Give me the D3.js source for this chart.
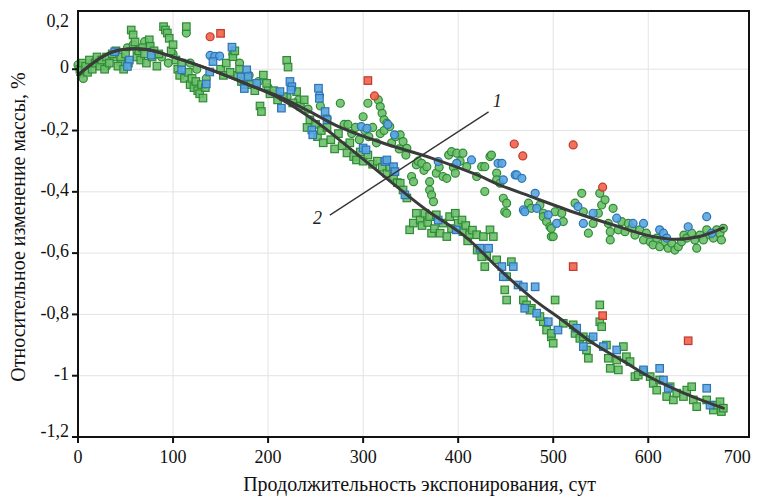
<!DOCTYPE html>
<html>
<head>
<meta charset="utf-8">
<script src="https://cdn.jsdelivr.net/npm/d3@7"></script>
<style>
  body { margin: 0; background: #fff; }
  svg { display: block; font-family: "Liberation Serif", "DejaVu Serif", serif; }
</style>
</head>
<body>
<svg id="chart" width="760" height="497"></svg>
<script>
// tick values
const xTicks = [0, 100, 200, 300, 400, 500, 600, 700];
const yTicks = [0.2, 0, -0.2, -0.4, -0.6, -0.8, -1, -1.2];

// fitted curves (day, % change)
const curve1 = [[0,-0.019],[35,0.055],[70,0.065],[102,0.038],[140,-0.002],[179,-0.05],[212,-0.089],[245,-0.14],[276,-0.19],[320,-0.24],[372,-0.29],[420,-0.345],[444,-0.378],[476,-0.415],[525,-0.47],[565,-0.51],[602,-0.544],[630,-0.555],[655,-0.545],[679,-0.518]];
const curve2 = [[0,-0.019],[35,0.055],[70,0.065],[102,0.038],[140,-0.002],[179,-0.05],[212,-0.095],[250,-0.17],[286,-0.258],[339,-0.392],[367,-0.46],[409,-0.55],[444,-0.655],[479,-0.75],[510,-0.82],[540,-0.89],[575,-0.955],[605,-1.01],[640,-1.06],[679,-1.106]];

// sample 2 (squares)
const greenSquares = [[2,0.0],[5,0.02],[8,0.01],[10,-0.01],[12,0.03],[15,0.0],[18,0.02],[20,0.04],[23,0.01],[25,0.03],[28,0.0],[30,0.04],[33,0.02],[36,0.05],[40,0.06],[42,0.01],[45,0.04],[48,0.0],[50,0.05],[53,0.02],[56,0.128],[58,0.112],[60,0.089],[62,0.04],[64,0.06],[66,0.03],[68,0.07],[70,0.05],[72,0.02],[75,0.096],[76,0.075],[78,0.04],[80,0.06],[83,0.01],[85,0.05],[90,0.139],[92,0.128],[94,0.118],[96,0.101],[98,0.06],[100,0.08],[103,0.03],[105,0.0],[107,-0.02],[109,0.02],[112,-0.03],[114,0.139],[116,-0.01],[118,-0.05],[120,-0.03],[122,-0.06],[124,-0.04],[126,-0.07],[128,-0.08],[130,-0.05],[131.5,-0.094],[134,-0.06],[150,0.0],[153,-0.02],[156,0.02],[160,-0.01],[163,0.041],[165,0.06],[168,-0.02],[170,0.0],[172,-0.04],[175,-0.05],[178,-0.03],[182,-0.05],[186,-0.07],[191.5,-0.12],[193,-0.138],[195,-0.019],[198.5,-0.046],[202,-0.08],[206,-0.07],[210,-0.1],[216,-0.09],[219.6,0.029],[221,0.007],[226,-0.11],[230,-0.073],[234,-0.12],[238,-0.1],[241,-0.19],[244,-0.165],[250,-0.18],[252,-0.22],[256,-0.2],[258,-0.24],[262,-0.19],[266,-0.23],[270,-0.26],[274,-0.21],[278,-0.25],[283,-0.273],[286,-0.24],[290,-0.285],[293,-0.296],[297,-0.27],[300,-0.3],[305,-0.28],[310,-0.31],[315,-0.3],[320,-0.32],[325,-0.34],[328,-0.32],[332,-0.35],[336,-0.37],[339,-0.372],[342,-0.394],[346,-0.42],[349,-0.524],[352.8,-0.502],[356,-0.47],[360,-0.492],[362,-0.51],[365,-0.47],[368,-0.5],[370,-0.481],[372,-0.535],[375,-0.52],[377,-0.475],[381,-0.535],[384,-0.502],[388,-0.546],[391,-0.481],[393,-0.52],[397,-0.47],[400,-0.502],[404,-0.492],[405,-0.53],[408,-0.51],[410,-0.56],[412,-0.54],[415,-0.525],[419.5,-0.54],[420,-0.59],[426.5,-0.546],[430,-0.61],[433.5,-0.524],[437,-0.546],[428,-0.644],[424.7,-0.612],[440.5,-0.622],[451,-0.677],[449,-0.72],[451,-0.753],[456,-0.628],[468.6,-0.753],[472,-0.769],[477,-0.78],[502,-0.753],[489.6,-0.824],[493,-0.851],[498,-0.873],[500,-0.894],[521,-0.834],[523,-0.862],[528,-0.878],[535,-0.916],[475.6,-0.786],[486,-0.807],[498,-0.862],[510.6,-0.829],[531.7,-0.873],[537,-0.943],[538.7,-0.883],[549,-0.769],[549,-0.824],[551,-0.84],[556,-0.9],[558,-0.943],[560,-0.976],[566.8,-0.949],[568.5,-0.981],[573.8,-0.905],[577,-0.938],[580.8,-0.954],[586,-1.003],[589.5,-0.998],[595,-0.987],[602,-1.003],[605.3,-1.025],[608.9,-1.047],[612,-1.014],[619.4,-1.068],[623,-1.036],[626.4,-1.079],[630,-1.057],[637,-1.068],[640.5,-1.047],[645.7,-1.036],[647.4,-1.079],[651,-1.101],[661.5,-1.079],[668.5,-1.112],[672,-1.096],[675.5,-1.085],[677,-1.117],[679,-1.106]];
const blueSquares = [[38.6,0.057],[54,0.03],[52,0.009],[77,0.046],[109,-0.002],[142,0.025],[138.6,-0.009],[135,-0.048],[162,0.072],[171.5,-0.025],[175,-0.063],[177.5,-0.002],[179,-0.024],[188,-0.046],[212.5,-0.073],[214,-0.127],[223,-0.04],[225,-0.057],[224,-0.068],[246,-0.198],[247,-0.214],[253,-0.062],[254,-0.095],[260,-0.138],[262,-0.165],[300,-0.257],[303,-0.263],[323,-0.301],[325,-0.296],[332,-0.318],[333.5,-0.334],[344,-0.41],[379,-0.492],[398,-0.524],[423,-0.584],[432,-0.584],[446,-0.644],[447.5,-0.677],[458,-0.644],[463,-0.704],[468.6,-0.71],[481,-0.71],[470,-0.78],[482.6,-0.796],[494.8,-0.824],[505,-0.851],[524.7,-0.845],[531.7,-0.905],[542,-0.873],[552.7,-0.905],[566.8,-0.916],[595,-0.981],[612,-0.976],[616,-1.014],[621,-1.041],[661.5,-1.041],[665,-1.096]];
const redSquares = [[150,0.117],[305,-0.037],[521,-0.644],[552,-0.804],[642,-0.886]];

// sample 1 (circles)
const greenCircles = [[0,0.014],[3.9,-0.014],[5.6,-0.03],[10,0.0],[15,0.02],[22,0.03],[30,0.01],[38,0.04],[45,0.02],[52,0.07],[58,0.08],[62,0.06],[70,0.09],[75,0.07],[82,0.05],[88,0.04],[95,0.02],[100,0.05],[114,0.118],[118,0.02],[125,0.0],[135,-0.03],[163,0.05],[170,0.02],[180,-0.02],[190,-0.04],[200,-0.06],[210,-0.08],[220,-0.09],[232,-0.1],[242,-0.13],[255,-0.12],[262,-0.16],[276,-0.111],[280,-0.18],[284,-0.18],[288,-0.21],[292,-0.19],[296,-0.23],[300,-0.155],[302,-0.2],[305,-0.111],[306,-0.22],[310,-0.19],[314,-0.24],[318,-0.21],[316,-0.1],[318,-0.122],[320,-0.144],[322,-0.165],[322,-0.2],[325,-0.176],[328,-0.187],[330,-0.24],[334,-0.22],[338,-0.26],[339,-0.214],[342,-0.236],[346,-0.258],[345,-0.28],[351,-0.35],[353,-0.367],[356,-0.312],[358,-0.3],[361.6,-0.307],[364,-0.33],[367,-0.318],[370,-0.367],[370,-0.394],[372,-0.41],[374,-0.432],[377,-0.339],[380,-0.32],[384,-0.35],[388,-0.356],[390,-0.28],[393,-0.269],[395,-0.32],[397,-0.339],[398.5,-0.274],[402,-0.3],[405,-0.274],[409,-0.318],[419.5,-0.35],[424.7,-0.318],[428,-0.318],[428,-0.399],[433.5,-0.285],[435,-0.28],[440.5,-0.339],[440.5,-0.361],[444,-0.372],[447.5,-0.421],[449,-0.465],[451,-0.437],[451,-0.47],[474,-0.437],[477,-0.454],[486,-0.443],[489.6,-0.47],[489.6,-0.481],[493,-0.497],[496.6,-0.514],[498,-0.519],[498,-0.546],[500,-0.546],[502,-0.465],[509,-0.47],[510.6,-0.497],[523,-0.437],[530,-0.405],[531.7,-0.465],[537,-0.535],[542,-0.503],[547.5,-0.47],[549,-0.405],[551,-0.443],[554.5,-0.426],[558,-0.503],[560,-0.53],[560,-0.557],[563,-0.454],[568.5,-0.524],[572,-0.497],[575.5,-0.53],[579,-0.503],[582.6,-0.519],[586,-0.541],[591,-0.524],[595,-0.557],[598,-0.535],[602,-0.563],[605,-0.573],[609,-0.551],[612,-0.579],[617.6,-0.563],[621,-0.584],[624.7,-0.568],[628,-0.59],[631.6,-0.579],[635,-0.563],[637.5,-0.541],[640.5,-0.551],[645.7,-0.535],[649,-0.557],[651,-0.584],[654.4,-0.541],[658,-0.557],[661.5,-0.524],[665,-0.541],[668.5,-0.551],[672,-0.524],[675.5,-0.535],[677,-0.557],[679,-0.519]];
const blueCircles = [[139,0.045],[144,0.042],[149,0.043],[254,-0.085],[298,-0.187],[304,-0.193],[326,-0.18],[333,-0.214],[379,-0.301],[398.5,-0.307],[414,-0.296],[442,-0.307],[446,-0.307],[447.5,-0.361],[460,-0.345],[461.6,-0.345],[467,-0.356],[468.6,-0.459],[470,-0.465],[481,-0.405],[482.6,-0.454],[494.8,-0.475],[503.6,-0.503],[526,-0.448],[531.7,-0.503],[542,-0.47],[566.8,-0.486],[584,-0.503],[595,-0.503],[612,-0.524],[616,-0.535],[619.4,-0.551],[642,-0.514],[661.5,-0.481],[666.8,-0.535]];
const redCircles = [[139,0.106],[312,-0.087],[459,-0.244],[468,-0.283],[521,-0.247],[552,-0.385]];

// leader line ends and curve labels [text, day, value]
const leaderLine = [[265, -0.476], [432, -0.139]];
const curveLabels = [["1", 441, -0.11], ["2", 252, -0.49]];

const colors = {
  green: { fill: "#6cc06a", stroke: "#2f8a35" },
  blue:  { fill: "#59a6e0", stroke: "#2f73b5" },
  red:   { fill: "#f2604a", stroke: "#c0392b" }
};

const svg = d3.select("#chart");
const pLeft = 78, pRight = 749, pTop = 11, pBottom = 437;

const x = d3.scaleLinear().domain([0, 706]).range([pLeft, pRight]);
const y = d3.scaleLinear().domain([-1.2, 0.19]).range([pBottom, pTop]);
const fmt = v => String(Math.round(v * 10) / 10).replace(".", ",");

svg.append("rect").attr("width", 760).attr("height", 497).attr("fill", "#fff");

// grid
const grid = svg.append("g").attr("stroke", "#e3e3e3").attr("stroke-width", 1);
xTicks.filter(t => t > 0 && t < 700).forEach(t => {
  grid.append("line").attr("x1", x(t)).attr("x2", x(t)).attr("y1", pTop).attr("y2", pBottom);
});
yTicks.filter(t => t > -1.2 && t < 0.2).forEach(t => {
  grid.append("line").attr("x1", pLeft).attr("x2", pRight).attr("y1", y(t)).attr("y2", y(t));
});

// markers
const marks = svg.append("g");
function squares(data, c, size = 7.5) {
  marks.append("g").selectAll("rect").data(data).enter().append("rect")
    .attr("x", d => x(d[0]) - size / 2)
    .attr("y", d => y(d[1]) - size / 2)
    .attr("width", size).attr("height", size)
    .attr("fill", c.fill).attr("fill-opacity", 0.9)
    .attr("stroke", c.stroke).attr("stroke-width", 1.2);
}
function circles(data, c, r = 4) {
  marks.append("g").selectAll("circle").data(data).enter().append("circle")
    .attr("cx", d => x(d[0])).attr("cy", d => y(d[1])).attr("r", r)
    .attr("fill", c.fill).attr("fill-opacity", 0.9)
    .attr("stroke", c.stroke).attr("stroke-width", 1.2);
}
circles(greenCircles, colors.green);
squares(greenSquares, colors.green);
circles(blueCircles, colors.blue);
squares(blueSquares, colors.blue);
circles(redCircles, colors.red);
squares(redSquares, colors.red);

// fitted curves
const line = d3.line().x(d => x(d[0])).y(d => y(d[1])).curve(d3.curveCatmullRom.alpha(0.5));
[curve1, curve2].forEach(c => {
  svg.append("path").attr("d", line(c)).attr("fill", "none")
    .attr("stroke", "#3a3a3a").attr("stroke-width", 3).attr("stroke-linecap", "round");
});

// leader line and labels
svg.append("line")
  .attr("x1", x(leaderLine[0][0])).attr("y1", y(leaderLine[0][1]))
  .attr("x2", x(leaderLine[1][0])).attr("y2", y(leaderLine[1][1]))
  .attr("stroke", "#333").attr("stroke-width", 1.3);
svg.append("g").selectAll("text").data(curveLabels).enter().append("text")
  .attr("x", d => x(d[1])).attr("y", d => y(d[2]))
  .attr("text-anchor", "middle").attr("dominant-baseline", "middle")
  .attr("font-size", 18).attr("font-style", "italic").attr("fill", "#222")
  .text(d => d[0]);

// frame
svg.append("rect").attr("x", pLeft).attr("y", pTop)
  .attr("width", pRight - pLeft).attr("height", pBottom - pTop)
  .attr("fill", "none").attr("stroke", "#111").attr("stroke-width", 2);

// ticks
const axis = svg.append("g").attr("stroke", "#111").attr("stroke-width", 2);
xTicks.filter(t => t < 700).forEach(t => {
  axis.append("line").attr("x1", x(t)).attr("x2", x(t)).attr("y1", pBottom).attr("y2", pBottom + 6);
});
yTicks.filter(t => t <= 0).forEach(t => {
  axis.append("line").attr("x1", pLeft - 6).attr("x2", pLeft).attr("y1", y(t)).attr("y2", y(t));
});

// tick labels
svg.append("g").selectAll("text").data(xTicks).enter().append("text")
  .attr("x", d => x(d) - (d === 700 ? 6 : 0))
  .attr("y", pBottom + 26)
  .attr("text-anchor", "middle").attr("font-size", 18).attr("fill", "#111")
  .text(d => d);
svg.append("g").selectAll("text").data(yTicks).enter().append("text")
  .attr("x", pLeft - 9)
  .attr("y", d => y(d) + (d === 0.2 ? 15 : d === -1.2 ? -4 : 0))
  .attr("text-anchor", "end").attr("dominant-baseline", "middle")
  .attr("font-size", 18).attr("fill", "#111")
  .text(d => fmt(d));

// axis titles
svg.append("text")
  .attr("x", (pLeft + pRight) / 2 + 6).attr("y", 491)
  .attr("text-anchor", "middle").attr("font-size", 20).attr("fill", "#111")
  .text("Продолжительность экспонирования, сут");
svg.append("text")
  .attr("transform", `translate(25,${(pTop + pBottom) / 2 + 3}) rotate(-90)`)
  .attr("text-anchor", "middle").attr("font-size", 20).attr("fill", "#111")
  .text("Относительное изменение массы, %");
</script>
</body>
</html>
